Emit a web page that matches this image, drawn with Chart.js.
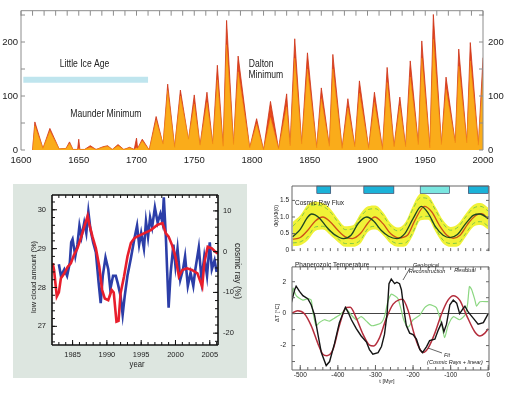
<!DOCTYPE html>
<html>
<head>
<meta charset="utf-8">
<script src="https://cdn.jsdelivr.net/npm/chart.js@4.4.0/dist/chart.umd.min.js"></script>
<style>
html, body { margin: 0; padding: 0; background: #fff; }
body { width: 512px; height: 394px; position: relative; overflow: hidden; }
canvas { position: absolute; }
#cloudBox { position: absolute; left: 13px; top: 184px; width: 234px; height: 194px; background: #dde6e0; }
</style>
</head>
<body>
<canvas id="spots" width="512" height="176" style="left:0;top:0"></canvas>
<div id="cloudBox"><canvas id="cloud" width="234" height="194" style="left:0;top:0"></canvas></div>
<canvas id="flux" width="242" height="82" style="left:270px;top:176px"></canvas>
<canvas id="temp" width="242" height="137" style="left:270px;top:257px"></canvas>
<script>
// --- sunspots 1610-2000 (cycle minima / maxima) ---
const spotYears = [1610,1612,1619,1625,1633,1639,1642,1645,1649,1650,1651,1655,1660,1665,1671,1675,1679,1684,1689,1694,1698,1700,1701,1705,1711,1717,1723,1727,1733,1738,1745,1750,1755,1761,1766,1770,1775,1778,1784,1788,1798,1804,1810,1816,1823,1830,1833,1837,1843,1848,1856,1860,1867,1870,1878,1883,1889,1893,1901,1906,1913,1917,1923,1928,1933,1937,1944,1947,1954,1957,1964,1968,1976,1979,1986,1989,1996,2000];
const spotMonthly = [0,52,3,40,2,3,15,1,1,20,1,1,8,1,6,8,1,10,1,5,1,22,3,20,0,62,10,122,5,111,18,102,8,107,10,157,7,240,9,174,4,58,0,90,2,104,8,206,11,180,4,115,7,177,3,95,6,128,3,107,1,153,6,98,6,165,10,202,4,251,10,135,13,187,13,199,9,171];
const spotYearly = [0,45,3,35,2,3,12,1,1,3,1,1,5,1,5,7,1,8,1,4,1,4,3,17,0,55,11,110,5,100,20,85,9,88,11,130,7,195,10,145,4,48,0,60,2,80,8,170,11,150,4,95,7,150,3,78,6,105,3,88,1,125,6,82,6,135,10,170,4,205,10,112,13,155,13,165,9,140];
const iceAgeSpan = [1602, 1710];
const iceAgeLevel = 130;
const spotXTicks = [1600,1650,1700,1750,1800,1850,1900,1950,2000];
const spotYTicks = [0,100,200];

// --- low cloud vs cosmic ray ---
const cloudYears = [1983.0,1983.3,1983.8,1984.2,1984.6,1984.8,1985.0,1985.4,1985.7,1986.0,1986.3,1986.7,1987.0,1987.3,1987.6,1988.0,1988.4,1988.8,1989.1,1989.4,1989.8,1990.2,1990.5,1990.9,1991.3,1991.6,1992.0,1992.3,1992.6,1993.0,1993.5,1994.0,1994.4,1994.7,1995.0,1995.4,1995.7,1996.0,1996.3,1996.6,1997.0,1997.4,1997.8,1998.1,1998.3,1998.6,1998.8,1999.0,1999.3,1999.7,2000.0,2000.3,2000.7,2001.1,2001.4,2001.8,2002.2,2002.6,2002.9,2003.4,2003.8,2004.2,2004.6,2005.0,2005.3,2005.7,2006.0];
const cloudValues = [28.6,28.3,28.47,28.3,28.64,29.16,29.24,28.81,29.1,29.59,29.3,29.67,29.4,29.95,29.5,29.16,28.9,28.12,27.6,28.3,28.77,28.47,27.95,28.3,28.3,28.1,27.78,27.3,27.78,28.3,28.75,29.25,29.59,29.1,29.4,29.0,29.7,29.3,29.8,29.55,30.06,29.67,29.9,29.67,30.32,29.3,28.38,27.48,28.38,29.1,28.55,29.0,28.2,28.47,28.8,28.04,28.38,28.04,28.47,29.03,28.2,28.8,28.3,29.16,28.47,28.7,28.4];
const rayYears = [1982.1,1982.3,1982.7,1983.0,1983.3,1983.8,1984.3,1984.75,1985.2,1985.7,1986.2,1986.7,1987.2,1987.4,1987.9,1988.4,1988.9,1989.3,1989.7,1990.2,1990.7,1991.0,1991.4,1991.7,1992.0,1992.5,1993.0,1993.5,1994.0,1994.4,1995.4,1996.4,1997.4,1998.1,1998.6,1999.0,1999.5,2000.0,2000.5,2001.0,2001.7,2002.4,2003.2,2003.9,2004.2,2004.7,2005.3,2005.8,2006.2];
const rayValues = [-2.85,-4.5,-11,-10,-6.5,-5.3,-3.7,-2.85,-0.8,0.8,3.3,6.1,8.8,7.0,3.7,0.8,-3.7,-9.4,-11.5,-11.9,-9.4,-10,-17.2,-17,-10.2,-6.1,-1.2,2.1,3.3,3.7,4.5,5.3,6.6,7.0,4.5,3.7,1.6,-1.2,-6.1,-4.5,-4.1,-4.5,-5.3,-8.6,-2.8,1.2,0.8,0,-0.5];
const cloudXTicks = [1985,1990,1995,2000,2005];
const cloudYTicks = [27,28,29,30];
const rayYTicks = [-20,-10,0,10];

// --- cosmic ray flux (Myr) ---
const fluxGreenT = [-520,-500,-480,-470,-450,-430,-410,-385,-365,-345,-323,-305,-285,-265,-243,-222,-200,-178,-160,-140,-120,-102,-82,-60,-40,-22,0];
const fluxGreen = [0.40,0.63,1.00,1.09,0.98,0.70,0.48,0.35,0.45,0.82,1.00,0.88,0.60,0.42,0.35,0.50,0.95,1.32,1.12,0.70,0.45,0.38,0.47,0.80,1.05,1.09,0.95];
const fluxRedT = [-520,-500,-480,-460,-440,-420,-400,-380,-362,-340,-320,-302,-280,-260,-238,-215,-195,-170,-150,-130,-110,-93,-75,-55,-35,-18,0];
const fluxRed = [0.33,0.38,0.60,0.88,1.00,0.85,0.60,0.40,0.35,0.50,0.82,1.00,0.80,0.50,0.37,0.45,0.90,1.32,1.15,0.75,0.45,0.36,0.45,0.78,1.03,1.10,0.95];
const bandT = [-520,-500,-480,-460,-440,-420,-400,-380,-360,-340,-320,-300,-280,-260,-240,-220,-200,-180,-160,-140,-120,-100,-80,-60,-40,-20,0];
const bandHi = [0.85,1.05,1.38,1.46,1.42,1.25,0.95,0.72,0.75,1.10,1.32,1.35,1.15,0.82,0.68,0.85,1.35,1.70,1.65,1.30,0.90,0.70,0.80,1.10,1.36,1.42,1.28];
const bandLo = [0.12,0.15,0.30,0.58,0.62,0.45,0.25,0.10,0.10,0.20,0.55,0.62,0.45,0.20,0.10,0.12,0.45,0.90,0.92,0.55,0.20,0.10,0.12,0.40,0.70,0.76,0.62];
const dashHi = [0.72,0.95,1.28,1.36,1.32,1.15,0.85,0.62,0.65,1.00,1.22,1.25,1.05,0.72,0.58,0.75,1.25,1.58,1.55,1.20,0.80,0.60,0.70,1.00,1.26,1.32,1.18];
const dashLo = [0.22,0.25,0.40,0.70,0.72,0.55,0.35,0.20,0.20,0.30,0.65,0.72,0.55,0.30,0.20,0.22,0.55,1.00,1.02,0.65,0.30,0.20,0.22,0.50,0.80,0.86,0.72];
const iceEpochs = [[-456,-419],[-331,-251],[-181,-103],[-53,0]];
const iceColors = ['#1bb2d8','#1bb2d8','#7ae6e0','#1bb2d8'];
const fluxYTicks = [0,0.5,1,1.5];

// --- phanerozoic temperature ---
const geoT = [-524,-515,-511,-502,-493,-480,-471,-462,-453,-444,-431,-422,-409,-396,-380,-373,-364,-351,-338,-324,-316,-307,-293,-284,-276,-269,-264,-258,-249,-243,-236,-231,-225,-218,-209,-200,-191,-182,-175,-164,-156,-142,-133,-124,-118,-111,-102,-93,-84,-76,-68,-62,-53,-40,-27,-13,0];
const geoV = [0.66,1.5,1.72,1.4,1.13,0.94,0.56,-0.1,-1.3,-2.44,-3.25,-3.0,-1.88,-0.56,0.4,0.1,-0.38,-0.94,-1.4,-1.78,-2.25,-2.54,-2.44,-2.06,-1.3,0,1.88,2.16,1.88,1.97,1.88,1.5,0.38,-0.75,-1.22,-1.31,-1.6,-2.25,-2.44,-2.06,-1.69,-1.6,-1.03,-0.56,-1.13,-0.66,0.56,0.85,0.66,0,0.28,0.47,0.09,-0.28,-0.66,-0.56,0];
const fitT = [-524,-507,-489,-471,-453,-440,-429,-413,-396,-378,-367,-351,-333,-316,-305,-289,-271,-253,-236,-228,-213,-200,-187,-173,-160,-142,-124,-107,-93,-76,-58,-36,-22,-9,0];
const fitV = [0,0.19,0,-0.75,-1.88,-2.54,-2.63,-2.25,-0.75,0.38,0.4,-0.28,-1.3,-1.97,-2.03,-1.5,-0.28,0.6,0.88,0.9,0.19,-1.03,-1.97,-2.44,-2.16,-1.22,0,0.85,1.13,0.85,-0.09,-1.13,-1.4,-1.22,-0.94];
const resT = [-524,-519,-511,-493,-480,-471,-467,-458,-449,-436,-422,-409,-391,-378,-364,-351,-338,-324,-311,-298,-284,-276,-267,-258,-249,-240,-231,-225,-213,-200,-182,-169,-156,-138,-124,-116,-107,-93,-76,-62,-55,-50,-44,-36,-31,-22,0];
const resV = [0.94,1.6,1.13,0.85,0.94,0.85,0.19,-0.75,-0.56,-0.38,-0.47,-0.28,0,0.28,-0.09,-0.38,-0.19,-0.47,-0.75,-0.7,-0.56,-0.19,0.75,1.22,1.13,0.94,0.19,-0.38,-0.85,-0.38,-0.09,0.38,0.56,0.38,-0.66,-1.5,-0.75,-0.19,-0.38,-0.09,0.6,1.7,1.5,0.9,0.47,0.75,0.75];
const tempXTicks = [-500,-400,-300,-200,-100,0];
const tempYTicks = [-2,0,2];

const FONT = "'Liberation Sans', Arial, sans-serif";
Chart.defaults.font.family = FONT;
Chart.defaults.color = '#222';
Chart.defaults.animation = false;
Chart.defaults.responsive = false;
Chart.defaults.devicePixelRatio = 1;
Chart.defaults.plugins.legend.display = false;
Chart.defaults.plugins.tooltip.enabled = false;
Chart.defaults.elements.point.radius = 0;

const pts = (xs, ys) => xs.map((x, i) => ({ x: x, y: ys[i] }));
const range = (a, b, s) => { const r = []; for (let v = a; v <= b + 1e-9; v += s) r.push(+v.toFixed(4)); return r; };
const fixTicks = list => s => { s.ticks = list.map(v => ({ value: v })); };
const f = (size, style) => (style ? style + ' ' : '') + size + 'px ' + FONT;

// frame, inward ticks, boxes and text drawn through the chart scales
const deco = {
    id: 'deco',
    beforeDatasetsDraw(chart, args, o) {
        const c = chart.ctx, a = chart.chartArea;
        if (o.areaColor) {
            c.save();
            c.fillStyle = o.areaColor;
            c.fillRect(a.left, a.top, a.right - a.left, a.bottom - a.top);
            c.restore();
        }
    },
    afterDatasetsDraw(chart, args, o) {
        const c = chart.ctx, a = chart.chartArea;
        c.save();
        (o.boxes || []).forEach(b => {
            const xs = chart.scales.x, ys = chart.scales.y;
            const x0 = xs.getPixelForValue(b.from), x1 = xs.getPixelForValue(b.to);
            const y0 = ys.getPixelForValue(b.top), y1 = ys.getPixelForValue(b.bottom);
            c.fillStyle = b.color;
            c.fillRect(x0, y0, x1 - x0, y1 - y0);
            c.strokeStyle = '#335';
            c.lineWidth = 0.6;
            c.strokeRect(x0, y0, x1 - x0, y1 - y0);
        });
        if (o.frame) {
            const s = o.frame.sides;
            c.strokeStyle = o.frame.color;
            c.lineWidth = o.frame.width;
            c.beginPath();
            if (s.includes('top')) { c.moveTo(a.left, a.top); c.lineTo(a.right, a.top); }
            if (s.includes('bottom')) { c.moveTo(a.left, a.bottom); c.lineTo(a.right, a.bottom); }
            if (s.includes('left')) { c.moveTo(a.left, a.top); c.lineTo(a.left, a.bottom); }
            if (s.includes('right')) { c.moveTo(a.right, a.top); c.lineTo(a.right, a.bottom); }
            c.stroke();
        }
        (o.ticks || []).forEach(t => {
            const sc = chart.scales[t.scale];
            c.strokeStyle = t.color || o.frame.color;
            c.lineWidth = t.width || 1;
            c.beginPath();
            t.values.forEach(v => {
                const p = sc.getPixelForValue(v);
                if (t.side === 'top') { c.moveTo(p, a.top); c.lineTo(p, a.top + t.len); }
                else if (t.side === 'bottom') { c.moveTo(p, a.bottom); c.lineTo(p, a.bottom - t.len); }
                else if (t.side === 'left') { c.moveTo(a.left, p); c.lineTo(a.left + t.len, p); }
                else { c.moveTo(a.right, p); c.lineTo(a.right - t.len, p); }
            });
            c.stroke();
        });
        (o.lines || []).forEach(l => {
            c.strokeStyle = l.color || '#222';
            c.lineWidth = l.width || 0.7;
            c.beginPath();
            c.moveTo(l.from[0], l.from[1]);
            c.lineTo(l.to[0], l.to[1]);
            c.stroke();
        });
        (o.texts || []).forEach(t => {
            let x = t.x, y = t.y;
            if (t.data) {
                x = chart.scales.x.getPixelForValue(t.x);
                y = chart.scales[t.yAxis || 'y'].getPixelForValue(t.y);
            }
            c.save();
            c.translate(x, y);
            if (t.rot) c.rotate(t.rot);
            c.scale(t.sx || 1, 1);
            c.font = t.font;
            c.fillStyle = t.color || '#222';
            c.textAlign = t.align || 'center';
            c.textBaseline = 'middle';
            c.fillText(t.text, 0, 0);
            c.restore();
        });
        c.restore();
    }
};
Chart.register(deco);

// ---------- top: sunspot numbers ----------
new Chart(document.getElementById('spots'), {
    type: 'line',
    data: {
        datasets: [{
            data: pts(iceAgeSpan, [iceAgeLevel, iceAgeLevel]),
            borderColor: '#bfe5ee',
            borderWidth: 6,
            borderCapStyle: 'butt'
        }, {
            data: pts(spotYears, spotYearly),
            fill: 'origin',
            backgroundColor: 'rgb(250,172,26)',
            borderColor: 'rgb(245,145,22)',
            borderWidth: 0.6,
            tension: 0
        }, {
            data: pts(spotYears, spotMonthly),
            fill: 'origin',
            backgroundColor: 'rgb(230,72,28)',
            borderColor: 'rgb(205,50,22)',
            borderWidth: 0.8,
            tension: 0
        }]
    },
    options: {
        layout: { padding: { top: 9 } },
        scales: {
            x: {
                type: 'linear', min: 1600, max: 2000,
                afterBuildTicks: fixTicks(spotXTicks),
                afterFit: s => { s.height = 26; },
                grid: { display: false, drawTicks: false },
                border: { display: false },
                ticks: { padding: 5, font: { size: 9.5 }, maxRotation: 0, autoSkip: false, callback: v => String(v) }
            },
            y: {
                min: 0, max: 258, position: 'left',
                afterBuildTicks: fixTicks(spotYTicks),
                afterFit: s => { s.width = 21; },
                grid: { display: false, drawTicks: false },
                border: { display: false },
                ticks: { padding: 3, font: { size: 9.5 } }
            },
            y2: {
                type: 'linear', min: 0, max: 258, position: 'right',
                afterBuildTicks: fixTicks(spotYTicks),
                afterFit: s => { s.width = 29; },
                grid: { display: false, drawTicks: false },
                border: { display: false },
                ticks: { padding: 5, font: { size: 9.5 } }
            }
        },
        plugins: {
            deco: {
                frame: { color: '#8c8c8c', width: 1, sides: ['top', 'left', 'right'] },
                ticks: [
                    { scale: 'x', side: 'top', values: range(1600, 2000, 10), len: 5 },
                    { scale: 'y', side: 'left', values: range(0, 250, 50), len: 4 },
                    { scale: 'y2', side: 'right', values: range(0, 250, 50), len: 4 }
                ],
                texts: [
                    { text: 'Little Ice Age', data: true, x: 1655, y: 159, font: f(11), sx: 0.78 },
                    { text: 'Maunder Minimum', data: true, x: 1673.5, y: 67, font: f(11), sx: 0.78 },
                    { text: 'Dalton', data: true, x: 1808, y: 160, font: f(11), sx: 0.78 },
                    { text: 'Minimum', data: true, x: 1812, y: 139, font: f(11), sx: 0.78 }
                ]
            }
        }
    }
});

// ---------- bottom left: low cloud vs cosmic rays ----------
new Chart(document.getElementById('cloud'), {
    type: 'line',
    data: {
        datasets: [{
            data: pts(rayYears, rayValues),
            yAxisID: 'y2',
            borderColor: 'rgb(232,30,44)',
            borderWidth: 2.6,
            tension: 0
        }, {
            data: pts(cloudYears, cloudValues),
            yAxisID: 'y',
            borderColor: 'rgb(44,62,168)',
            borderWidth: 2.6,
            tension: 0
        }]
    },
    options: {
        layout: { padding: { top: 11 } },
        scales: {
            x: {
                type: 'linear', min: 1982.0, max: 2006.2,
                afterBuildTicks: fixTicks(cloudXTicks),
                afterFit: s => { s.height = 33; },
                grid: { display: false, drawTicks: false },
                border: { display: false },
                ticks: { padding: 5, font: { size: 7.5 }, maxRotation: 0, autoSkip: false, callback: v => String(v) }
            },
            y: {
                min: 26.52, max: 30.38, position: 'left',
                afterBuildTicks: fixTicks(cloudYTicks),
                afterFit: s => { s.width = 39; },
                grid: { display: false, drawTicks: false },
                border: { display: false },
                ticks: { padding: 6, font: { size: 7.5 } }
            },
            y2: {
                min: -22.9, max: 13.9, position: 'right',
                afterBuildTicks: fixTicks(rayYTicks),
                afterFit: s => { s.width = 29; },
                grid: { display: false, drawTicks: false },
                border: { display: false },
                ticks: { padding: 5, font: { size: 7.5 } }
            }
        },
        plugins: {
            deco: {
                areaColor: '#ffffff',
                frame: { color: '#111', width: 1.6, sides: ['top', 'bottom', 'left', 'right'] },
                ticks: [
                    { scale: 'x', side: 'bottom', values: range(1983, 2006, 1), len: 3 },
                    { scale: 'x', side: 'top', values: range(1983, 2006, 1), len: 3 },
                    { scale: 'x', side: 'bottom', values: cloudXTicks, len: 5 },
                    { scale: 'y', side: 'left', values: range(26.6, 30.2, 0.2), len: 3 },
                    { scale: 'y', side: 'left', values: cloudYTicks, len: 5 },
                    { scale: 'y2', side: 'right', values: range(-22, 12, 2), len: 3 },
                    { scale: 'y2', side: 'right', values: rayYTicks, len: 5 }
                ],
                texts: [
                    { text: 'year', x: 124, y: 181, font: f(9), sx: 0.85 },
                    { text: 'low cloud amount (%)', x: 21, y: 93, rot: -Math.PI / 2, font: f(7.5) },
                    { text: 'cosmic ray (%)', x: 224, y: 87, rot: Math.PI / 2, font: f(8.5) }
                ]
            }
        }
    }
});

// ---------- bottom right, upper: cosmic ray flux ----------
new Chart(document.getElementById('flux'), {
    type: 'line',
    data: {
        datasets: [{
            data: pts(fluxGreenT, fluxGreen),
            borderColor: 'rgb(30,70,35)',
            borderWidth: 1.3,
            cubicInterpolationMode: 'monotone'
        }, {
            data: pts(fluxRedT, fluxRed),
            borderColor: 'rgb(205,80,25)',
            borderWidth: 1.3,
            cubicInterpolationMode: 'monotone'
        }, {
            data: pts(bandT, dashHi),
            borderColor: 'rgb(130,200,70)',
            borderWidth: 1,
            borderDash: [4, 3],
            cubicInterpolationMode: 'monotone'
        }, {
            data: pts(bandT, dashLo),
            borderColor: 'rgb(130,200,70)',
            borderWidth: 1,
            borderDash: [4, 3],
            cubicInterpolationMode: 'monotone'
        }, {
            data: pts(bandT, bandHi),
            borderWidth: 0,
            borderColor: 'rgba(0,0,0,0)',
            backgroundColor: 'rgb(240,242,55)',
            fill: '+1',
            cubicInterpolationMode: 'monotone'
        }, {
            data: pts(bandT, bandLo),
            borderWidth: 0,
            borderColor: 'rgba(0,0,0,0)',
            cubicInterpolationMode: 'monotone'
        }]
    },
    options: {
        layout: { padding: { top: 10, right: 23, bottom: 1 } },
        scales: {
            x: { type: 'linear', min: -522, max: 2, display: false },
            y: {
                min: -0.028, max: 1.934,
                afterBuildTicks: fixTicks(fluxYTicks),
                afterFit: s => { s.width = 22; },
                grid: { display: false, drawTicks: false },
                border: { display: false },
                ticks: { padding: 3, font: { size: 6.5 } }
            }
        },
        plugins: {
            deco: {
                boxes: iceEpochs.map((e, i) => ({ from: e[0], to: e[1], top: 1.934, bottom: 1.71, color: iceColors[i] })),
                frame: { color: '#666', width: 1, sides: ['top', 'left', 'right'] },
                ticks: [
                    { scale: 'y', side: 'left', values: fluxYTicks, len: 3 },
                    { scale: 'y', side: 'right', values: fluxYTicks, len: 3 },
                    { scale: 'x', side: 'bottom', values: range(-500, 0, 20), len: 3 }
                ],
                texts: [
                    { text: 'Cosmic Ray Flux', x: 25, y: 27, align: 'left', font: f(6.5) },
                    { text: 'Φ(t)/Φ(0)', x: 6, y: 40, rot: -Math.PI / 2, font: f(5.5) }
                ]
            }
        }
    }
});

// ---------- bottom right, lower: phanerozoic temperature ----------
new Chart(document.getElementById('temp'), {
    type: 'line',
    data: {
        datasets: [{
            data: pts(geoT, geoV),
            borderColor: '#151515',
            borderWidth: 1.4,
            tension: 0
        }, {
            data: pts(fitT, fitV),
            borderColor: 'rgb(180,45,60)',
            borderWidth: 1.5,
            cubicInterpolationMode: 'monotone'
        }, {
            data: pts(resT, resV),
            borderColor: 'rgb(140,215,130)',
            borderWidth: 1.2,
            tension: 0.2
        }]
    },
    options: {
        layout: { padding: { top: 0, right: 23 } },
        scales: {
            x: {
                type: 'linear', min: -522, max: 2,
                afterBuildTicks: fixTicks(tempXTicks),
                afterFit: s => { s.height = 24; },
                grid: { display: false, drawTicks: false },
                border: { display: false },
                ticks: { padding: 1, font: { size: 6.5 }, maxRotation: 0, autoSkip: false }
            },
            y: {
                min: -3.53, max: 2.93,
                afterBuildTicks: fixTicks(tempYTicks),
                afterFit: s => { s.width = 22; },
                grid: { drawTicks: false, color: c => c.tick.value === 0 ? '#444' : 'rgba(0,0,0,0)', lineWidth: 1 },
                border: { display: false },
                ticks: { padding: 6, font: { size: 6.5 } }
            }
        },
        plugins: {
            deco: {
                frame: { color: '#666', width: 1, sides: ['top', 'bottom', 'left', 'right'] },
                ticks: [
                    { scale: 'x', side: 'top', values: range(-500, 0, 20), len: 3 },
                    { scale: 'x', side: 'bottom', values: range(-500, 0, 20), len: 3 },
                    { scale: 'x', side: 'bottom', values: tempXTicks, len: 5 },
                    { scale: 'y', side: 'left', values: range(-3, 2, 1), len: 3 },
                    { scale: 'y', side: 'right', values: range(-3, 2, 1), len: 3 }
                ],
                lines: [
                    { from: [140, 11], to: [133, 23] },
                    { from: [172, 96], to: [158, 91] }
                ],
                texts: [
                    { text: 'Phanerozoic Temperature', x: 25, y: 8, align: 'left', font: f(6.5) },
                    { text: 'Geological', x: 156, y: 8, font: f(5.5, 'italic') },
                    { text: 'Reconstruction', x: 157, y: 14.5, font: f(5.5, 'italic') },
                    { text: 'Residual', x: 195, y: 13, font: f(5.5, 'italic') },
                    { text: 'Fit', x: 177, y: 98, font: f(5.5, 'italic') },
                    { text: '(Cosmic Rays + linear)', x: 185, y: 105, font: f(5.5, 'italic') },
                    { text: 't [Myr]', x: 117, y: 124, font: f(5.5) },
                    { text: 'ΔT [°C]', x: 7, y: 56, rot: -Math.PI / 2, font: f(5.5) }
                ]
            }
        }
    }
});
</script>
</body>
</html>
